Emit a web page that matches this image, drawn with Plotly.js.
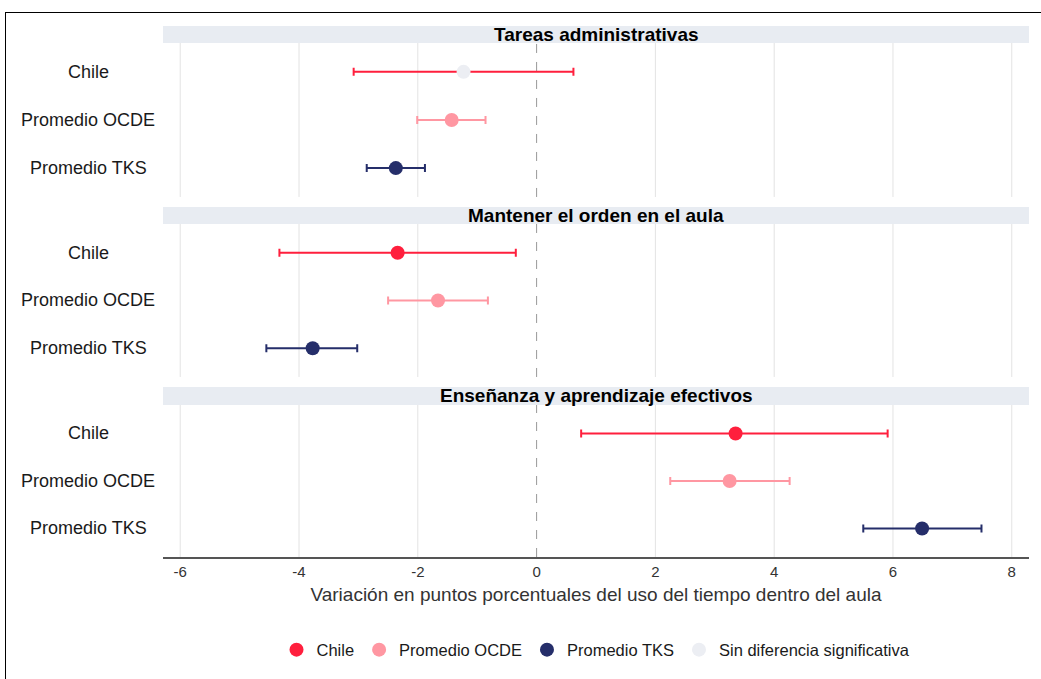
<!DOCTYPE html>
<html>
<head>
<meta charset="utf-8">
<script src="https://cdn.plot.ly/plotly-3.0.1.min.js"></script>
<style>
  html, body { margin: 0; padding: 0; overflow: hidden; background: #fff; }
  #chart { width: 1041px; height: 679px; }
  #frame { position: absolute; left: 5px; top: 12px; width: 1100px; height: 720px;
           border: 1.5px solid #000; pointer-events: none; }
</style>
</head>
<body>
<div id="chart"></div>
<div id="frame"></div>
<script>
// ---- Data ----
const panels = ['Tareas administrativas', 'Mantener el orden en el aula', 'Enseñanza y aprendizaje efectivos'];
const groups = ['Chile', 'Promedio OCDE', 'Promedio TKS'];

const chileEst  = [-1.23, -2.34, 3.35];
const chileLow  = [-3.08, -4.33, 0.75];
const chileHigh = [ 0.62, -0.35, 5.91];
const chileSig  = [false, true, true];

const ocdeEst  = [-1.43, -1.66, 3.25];
const ocdeLow  = [-2.01, -2.50, 2.25];
const ocdeHigh = [-0.86, -0.82, 4.26];
const ocdeSig  = [true, true, true];

const tksEst  = [-2.37, -3.77, 6.49];
const tksLow  = [-2.86, -4.55, 5.50];
const tksHigh = [-1.88, -3.02, 7.49];
const tksSig  = [true, true, true];

const xTicks = [-6, -4, -2, 0, 2, 4, 6, 8];
const xTickLabels = ['-6', '-4', '-2', '0', '2', '4', '6', '8'];
const legendNames = ['Chile', 'Promedio OCDE', 'Promedio TKS', 'Sin diferencia significativa'];

// ---- Styles ----
const colors = ['#FF1F3D', '#FF97A2', '#252E6A'];
const nsColor = '#ECEEF3';
const font = 'Liberation Sans, Arial, sans-serif';

const series = [
  {est: chileEst, low: chileLow, high: chileHigh, sig: chileSig},
  {est: ocdeEst, low: ocdeLow, high: ocdeHigh, sig: ocdeSig},
  {est: tksEst, low: tksLow, high: tksHigh, sig: tksSig}
];

// panel 0 (top) -> axis '3', panel 1 -> '2', panel 2 (bottom) -> ''
const suffix = ['3', '2', ''];
const yDomains = [[0.678, 0.968], [0.339, 0.6271], [0, 0.2863]];
const stripDomains = [[0.968, 1.0], [0.6271, 0.6591], [0.2863, 0.3202]];

const traces = [];
const annotations = [];
const shapes = [];

panels.forEach((pname, p) => {
  const s = suffix[p];
  // vertical grid lines at the ticks (except the zero reference)
  xTicks.forEach(v => {
    if (v === 0) return;
    shapes.push({type: 'line', xref: 'x' + s, yref: 'y' + s + ' domain', x0: v, x1: v, y0: 0, y1: 1,
                 line: {color: '#E3E3E3', width: 1}, layer: 'below'});
  });
  // dashed zero reference line
  shapes.push({type: 'line', xref: 'x' + s, yref: 'y' + s + ' domain', x0: 0, x1: 0, y0: 0, y1: 1,
               line: {color: '#999999', width: 1, dash: 'dash'}, layer: 'below'});
  series.forEach((ser, g) => {
    traces.push({
      type: 'scatter', mode: 'markers',
      x: [ser.est[p]], y: [groups[g]],
      xaxis: 'x' + s, yaxis: 'y' + s,
      marker: {color: ser.sig[p] ? colors[g] : nsColor, size: 14},
      error_x: {type: 'data', symmetric: false,
                array: [ser.high[p] - ser.est[p]],
                arrayminus: [ser.est[p] - ser.low[p]],
                color: colors[g], thickness: 2, width: 4},
      showlegend: false, hoverinfo: 'x+y'
    });
    annotations.push({
      xref: 'paper', yref: 'y' + s, x: -0.0866, y: groups[g],
      text: groups[g], showarrow: false, xanchor: 'center', yanchor: 'middle',
      font: {family: font, size: 18, color: '#1a1a1a'}
    });
  });
  // strip
  shapes.push({type: 'rect', xref: 'paper', yref: 'paper', x0: 0, x1: 1,
               y0: stripDomains[p][0], y1: stripDomains[p][1],
               fillcolor: '#E8ECF2', line: {width: 0}, layer: 'below'});
  annotations.push({xref: 'paper', yref: 'paper', x: 0.5,
                    y: (stripDomains[p][0] + stripDomains[p][1]) / 2,
                    text: pname, showarrow: false, xanchor: 'center', yanchor: 'middle',
                    font: {family: font, size: 19, color: '#000', weight: 'bold'}});
});

// legend-only traces
legendNames.forEach((n, i) => {
  traces.push({type: 'scatter', mode: 'markers', x: [null], y: [null],
               name: n, marker: {color: i < 3 ? colors[i] : nsColor, size: 14},
               showlegend: true, hoverinfo: 'skip'});
});

const layout = {
  width: 1041, height: 679,
  margin: {l: 163, r: 12, t: 26, b: 122},
  paper_bgcolor: '#fff', plot_bgcolor: 'rgba(0,0,0,0)',
  font: {family: font, color: '#333'},
  showlegend: true,
  legend: {orientation: 'h', x: 0.5, xanchor: 'center', y: -0.175, yanchor: 'middle',
           font: {family: font, size: 16.5, color: '#1a1a1a'}},
  annotations: annotations,
  shapes: shapes
};

panels.forEach((pname, p) => {
  const s = suffix[p];
  layout['xaxis' + s] = {
    anchor: 'y' + s, range: [-6.29, 8.29], tickvals: xTicks, ticktext: xTickLabels,
    showgrid: false, zeroline: false,
    showticklabels: s === '', showline: s === '', linecolor: '#555', linewidth: 1.5,
    tickfont: {family: font, size: 15, color: '#333'}, fixedrange: true
  };
  if (s !== '') layout['xaxis' + s].matches = 'x';
  layout['yaxis' + s] = {
    anchor: 'x' + s, domain: yDomains[p], type: 'category',
    categoryorder: 'array', categoryarray: groups.slice().reverse(),
    range: [-0.6, 2.6], showticklabels: false, showgrid: false, zeroline: false,
    fixedrange: true
  };
});
layout.xaxis.title = {text: 'Variación en puntos porcentuales del uso del tiempo dentro del aula',
                      font: {family: font, size: 19, color: '#333'}, standoff: 9};

Plotly.newPlot('chart', traces, layout, {displayModeBar: false, staticPlot: true});
</script>
</body>
</html>
